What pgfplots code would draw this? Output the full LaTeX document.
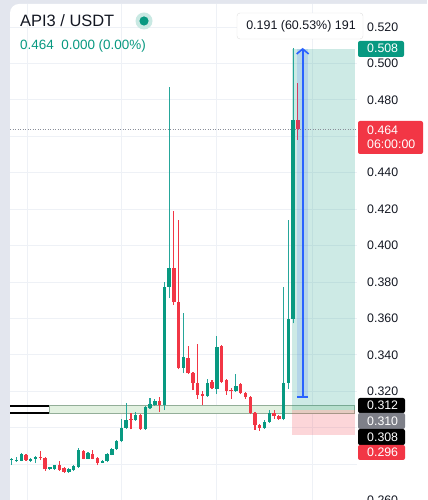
\documentclass[border=0pt]{standalone}
\usepackage{fontspec}
\setmainfont{Liberation Sans}
\usepackage{pgfplots}
\pgfplotsset{compat=1.18}
\usepackage{pgfplotstable}
\usetikzlibrary{arrows.meta}
\definecolor{upc}{HTML}{089981}
\definecolor{upw}{HTML}{26A69A}
\definecolor{dnc}{HTML}{F23645}
\definecolor{bgg}{HTML}{E3E6EE}
\definecolor{gridc}{HTML}{EEF1F6}
\definecolor{txt}{HTML}{131722}
\definecolor{bluec}{HTML}{2962FF}
\definecolor{greyl}{HTML}{7E8089}
\definecolor{bandf}{HTML}{E2F1E0}
\definecolor{bandd}{HTML}{93AE98}
\definecolor{dotc}{HTML}{8A8E99}

\pgfplotstableread{
x o h l c
0 0.2822 0.2835 0.2795 0.2825
1 0.2815 0.2840 0.2812 0.2823
2 0.2818 0.2862 0.2815 0.2856
4 0.2819 0.2833 0.2812 0.2830
5 0.2830 0.2845 0.2805 0.2841
8 0.2775 0.2785 0.2770 0.2780
9 0.2775 0.2798 0.2770 0.2793
12 0.2757 0.2778 0.2752 0.2772
13 0.2770 0.2795 0.2765 0.2788
14 0.2786 0.2886 0.2781 0.2878
16 0.2830 0.2864 0.2827 0.2860
19 0.2808 0.2823 0.2805 0.2819
20 0.2815 0.2862 0.2810 0.2856
21 0.2852 0.2890 0.2848 0.2885
22 0.2885 0.2935 0.2880 0.2929
23 0.2926 0.3046 0.2920 0.2999
24 0.2999 0.3134 0.2995 0.3042
26 0.3042 0.3088 0.3038 0.3070
28 0.2991 0.3118 0.2988 0.3112
29 0.3108 0.3161 0.3105 0.3130
30 0.3126 0.3155 0.3120 0.3148
32 0.3125 0.3800 0.3097 0.3773
33 0.3773 0.4870 0.3712 0.3877
36 0.3328 0.3630 0.3300 0.3388
41 0.3174 0.3266 0.3170 0.3246
43 0.3212 0.3504 0.3185 0.3443
47 0.3202 0.3294 0.3195 0.3229
53 0.2999 0.3040 0.2993 0.3031
54 0.3031 0.3097 0.3026 0.3081
57 0.3050 0.3773 0.3040 0.3246
58 0.3246 0.4140 0.3212 0.3597
59 0.3597 0.5085 0.3573 0.4689
}\upt

\pgfplotstableread{
x o h l c
3 0.2852 0.2858 0.2820 0.2823
6 0.2840 0.2870 0.2822 0.2833
7 0.2834 0.2838 0.2765 0.2772
10 0.2793 0.2818 0.2763 0.2767
11 0.2778 0.2782 0.2752 0.2757
15 0.2874 0.2880 0.2826 0.2830
17 0.2856 0.2878 0.2826 0.2830
18 0.2834 0.2838 0.2794 0.2808
25 0.3046 0.3082 0.2991 0.3042
27 0.3068 0.3075 0.2988 0.2991
31 0.3145 0.3167 0.3088 0.3123
34 0.3877 0.4190 0.3674 0.3690
35 0.3690 0.4140 0.3320 0.3328
37 0.3383 0.3449 0.3295 0.3300
38 0.3300 0.3305 0.3207 0.3246
39 0.3246 0.3460 0.3160 0.3180
40 0.3185 0.3201 0.3125 0.3174
42 0.3251 0.3262 0.3212 0.3218
44 0.3449 0.3455 0.3245 0.3251
45 0.3262 0.3268 0.3180 0.3202
46 0.3207 0.3218 0.3158 0.3200
48 0.3240 0.3245 0.3185 0.3190
49 0.3190 0.3195 0.3160 0.3168
50 0.3168 0.3172 0.3075 0.3081
51 0.3081 0.3085 0.2988 0.3015
52 0.3015 0.3020 0.2982 0.2999
55 0.3081 0.3097 0.3048 0.3064
56 0.3064 0.3070 0.3045 0.3050
60 0.4689 0.4891 0.4580 0.4640
}\dnt

\begin{document}
\begin{tikzpicture}[x=1bp,y=1bp]
\fill[bgg] (0,0) rectangle (427,500);
\fill[white, rounded corners=9bp] (10,-30) rectangle (460,496);

\begin{axis}[
  at={(10bp,0bp)}, anchor=south west, scale only axis,
  width=347bp, height=496bp,
  xmin=-0.356, xmax=72.39, ymin=0.26032, ymax=0.53262,
  axis line style={draw=none},
  clip=false,
  xtick={3.2,22.9,43.0,63.0}, xticklabels={},
  ytick={0.28,0.30,0.32,0.34,0.36,0.38,0.40,0.42,0.44,0.46,0.48,0.50,0.52},
  yticklabels={,,0.320,0.340,0.360,0.380,0.400,0.420,0.440,,0.480,0.500,0.520},
  yticklabel pos=right,
  major tick length=0pt,
  xmajorgrids, ymajorgrids,
  grid style={gridc, line width=0.8bp},
  yticklabel style={anchor=west, inner sep=0pt, xshift=10bp, text=txt,
    font=\fontsize{12.4}{14}\selectfont},
]
% horizontal band
\addplot[fill=bandf, draw=bandd, line width=1bp] coordinates {(7.82,0.308) (71.96,0.308) (71.96,0.312) (7.82,0.312)} -- cycle;
\addplot[black, line width=1.8bp] coordinates {(-0.356,0.312) (7.82,0.312)};
\addplot[black, line width=1.8bp] coordinates {(-0.356,0.308) (7.82,0.308)};
% position tool
\addplot[draw=none, fill=upc, fill opacity=0.2] coordinates {(58.76,0.310) (71.96,0.310) (71.96,0.508) (58.76,0.508)} -- cycle;
\addplot[draw=none, fill=dnc, fill opacity=0.2] coordinates {(58.76,0.296) (71.96,0.296) (71.96,0.310) (58.76,0.310)} -- cycle;
% last price line
\addplot[dotc, line width=0.8bp, dash pattern=on 1bp off 1.5bp] coordinates {(-0.356,0.464) (72.39,0.464)};
% candles: wicks (low to high)
\addplot[upw, line width=1.1bp, mark=none, quiver={u=0, v=\thisrow{h}-\thisrow{l}},
  quiver/every arrow/.append style={-}]
  table[x=x, y=l] {\upt};
\addplot[dnc, line width=1.1bp, mark=none, quiver={u=0, v=\thisrow{h}-\thisrow{l}},
  quiver/every arrow/.append style={-}]
  table[x=x, y=l] {\dnt};
% candles: bodies
\addplot[draw=none, mark=none, error bars/.cd, y dir=plus, y explicit, error mark=none,
  error bar style={line width=3.4bp, line cap=butt, draw=upc, solid}]
  table[x=x, y expr={min(\thisrow{o},\thisrow{c})}, y error expr={max(abs(\thisrow{c}-\thisrow{o}),0.0007)}] {\upt};
\addplot[draw=none, mark=none, error bars/.cd, y dir=plus, y explicit, error mark=none,
  error bar style={line width=3.4bp, line cap=butt, draw=dnc, solid}]
  table[x=x, y expr={min(\thisrow{o},\thisrow{c})}, y error expr={max(abs(\thisrow{c}-\thisrow{o}),0.0007)}] {\dnt};
% measure tool
\addplot[draw=none, fill=bluec, fill opacity=0.15] coordinates {(59.8,0.317) (62.1,0.317) (62.1,0.508) (59.8,0.508)} -- cycle;
\addplot[bluec, line width=1.8bp, -{Straight Barb[length=5bp, width=12bp, line width=1.6bp]}] coordinates {(61.0,0.317) (61.0,0.5085)};
\addplot[bluec, line width=1.8bp] coordinates {(59.9,0.317) (62.1,0.317)};
\end{axis}

% title area
\node[anchor=base west, inner sep=0, text=txt, font=\fontsize{16.5}{18}\selectfont] at (20,473.3) {API3 / USDT};
\fill[upc!22] (144,479) circle (8.5);
\fill[upc] (144,479) circle (4.6);
\node[anchor=base west, inner sep=0, text=upc, font=\fontsize{13.5}{15}\selectfont] at (20,450) {0.464\hspace{7.5bp}0.000 (0.00\%)};

% tooltip
\draw[draw=black!12, fill=white, rounded corners=3bp] (237,461) rectangle (363,487);
\node[inner sep=0, text=txt, font=\fontsize{12.5}{14}\selectfont] at (301,474) {0.191 (60.53\%) 191};

% price badges
\fill[upc, rounded corners=2bp] (358,443) rectangle (404,459);
\node[anchor=west, inner sep=0, text=white, font=\fontsize{12.4}{14}\selectfont] at (367,451.5) {0.508};
\fill[dnc, rounded corners=2bp] (358,346) rectangle (423,379);
\node[anchor=west, inner sep=0, text=white, font=\fontsize{12.4}{14}\selectfont] at (367,370) {0.464};
\node[anchor=west, inner sep=0, text=white, font=\fontsize{12.4}{14}\selectfont] at (367,355.5) {06:00:00};
\fill[black, rounded corners=2bp] (358,87) rectangle (405,102);
\node[anchor=west, inner sep=0, text=white, font=\fontsize{12.4}{14}\selectfont] at (367,94.5) {0.312};
\fill[greyl, rounded corners=2bp] (358,71) rectangle (405,87);
\node[anchor=west, inner sep=0, text=white, font=\fontsize{12.4}{14}\selectfont] at (367,79) {0.310};
\fill[black, rounded corners=2bp] (358,55) rectangle (405,71);
\node[anchor=west, inner sep=0, text=white, font=\fontsize{12.4}{14}\selectfont] at (367,63) {0.308};
\fill[dnc, rounded corners=2bp] (358,40) rectangle (405,55);
\node[anchor=west, inner sep=0, text=white, font=\fontsize{12.4}{14}\selectfont] at (367,47.5) {0.296};
\node[anchor=west, inner sep=0, text=txt, font=\fontsize{12.4}{14}\selectfont] at (367,-0.6) {0.260};

\pgfresetboundingbox
\path[use as bounding box] (0,0) rectangle (427,500);
\end{tikzpicture}
\end{document}
